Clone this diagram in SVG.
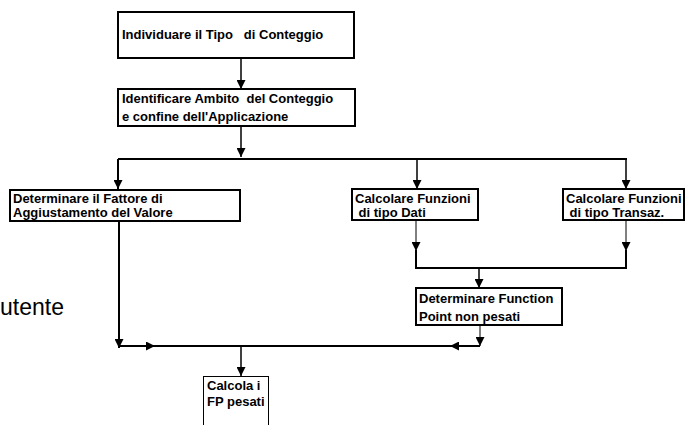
<svg xmlns="http://www.w3.org/2000/svg" width="686" height="425" viewBox="0 0 686 425">
  <defs>
    <marker id="arrow" viewBox="0 0 10 10" refX="10" refY="5" markerWidth="9" markerHeight="9" markerUnits="userSpaceOnUse" orient="auto">
      <path d="M0,0 L10,5 L0,10 z" fill="#000"/>
    </marker>
    <style>
      .box { fill: #fff; stroke: #000; stroke-width: 2; }
      .box.thin { stroke-width: 1; }
      .lbl { font-family: "Liberation Sans", Arial, sans-serif; font-size: 13px; font-weight: bold; fill: #000; white-space: pre; }
      .free { font-family: "Liberation Sans", Arial, sans-serif; font-size: 23px; fill: #000; }
      .c { fill: none; stroke: #000; }
      .w1 { stroke-width: 1; }
      .w15 { stroke-width: 1.5; }
      .w2 { stroke-width: 2; }
      .arr { marker-end: url(#arrow); }
    </style>
  </defs>
  <rect width="686" height="425" fill="#fff"/>

  <text class="free" x="0" y="315">utente</text>

  <!-- connectors -->
  <g id="connectors">
    <line class="c w15 arr" x1="241" y1="58" x2="241" y2="89"/>
    <line class="c w15 arr" x1="241" y1="126" x2="241" y2="157"/>
    <line class="c w2" x1="118" y1="159" x2="627" y2="159"/>
    <line class="c w2 arr" x1="118" y1="159" x2="118" y2="189"/>
    <line class="c w15 arr" x1="417" y1="159" x2="417" y2="189"/>
    <line class="c w15 arr" x1="626" y1="159" x2="626" y2="189"/>

    <line class="c w1 arr" x1="416" y1="220" x2="416" y2="251"/>
    <line class="c w1 arr" x1="626" y1="220" x2="626" y2="251"/>
    <polyline class="c w2" points="416,250 416,268 626,268 626,250"/>
    <line class="c w15 arr" x1="479" y1="268" x2="479" y2="288"/>

    <line class="c w1 arr" x1="480" y1="325" x2="480" y2="346"/>
    <line class="c w2" x1="480" y1="346" x2="452" y2="346"/>
    <line class="c w2 arr" x1="480" y1="346" x2="450" y2="346"/>
    <line class="c w2" x1="119" y1="346" x2="450" y2="346"/>
    <line class="c w2 arr" x1="119" y1="221" x2="119" y2="348"/>
    <line class="c w2 arr" x1="119" y1="346" x2="155" y2="346"/>
    <line class="c w15 arr" x1="241" y1="346" x2="241" y2="376"/>
  </g>

  <g id="n1">
    <rect class="box" x="118" y="12" width="236" height="46"/>
    <text class="lbl" x="122" y="39">Individuare il Tipo   di Conteggio</text>
  </g>
  <g id="n2">
    <rect class="box" x="118" y="89" width="237" height="37"/>
    <text class="lbl" x="122" y="103">Identificare Ambito  del Conteggio</text>
    <text class="lbl" x="122" y="121">e confine dell'Applicazione</text>
  </g>
  <g id="n3">
    <rect class="box" x="10" y="190" width="230" height="31"/>
    <text class="lbl" x="13" y="203">Determinare il Fattore di</text>
    <text class="lbl" x="13" y="217">Aggiustamento del Valore</text>
  </g>
  <g id="n4">
    <rect class="box" x="352" y="189" width="126" height="31"/>
    <text class="lbl" x="355" y="203">Calcolare Funzioni</text>
    <text class="lbl" x="355" y="217"> di tipo Dati</text>
  </g>
  <g id="n5">
    <rect class="box" x="563" y="189" width="121" height="31"/>
    <text class="lbl" x="566" y="203">Calcolare Funzioni</text>
    <text class="lbl" x="566" y="217"> di tipo Transaz.</text>
  </g>
  <g id="n6">
    <rect class="box" x="416" y="288" width="146" height="37"/>
    <text class="lbl" x="419" y="303">Determinare Function</text>
    <text class="lbl" x="419" y="321">Point non pesati</text>
  </g>
  <g id="n7">
    <rect class="box thin" x="203.5" y="376.5" width="65" height="60"/>
    <text class="lbl" x="207" y="390">Calcola i</text>
    <text class="lbl" x="207" y="406">FP pesati</text>
  </g>
</svg>
